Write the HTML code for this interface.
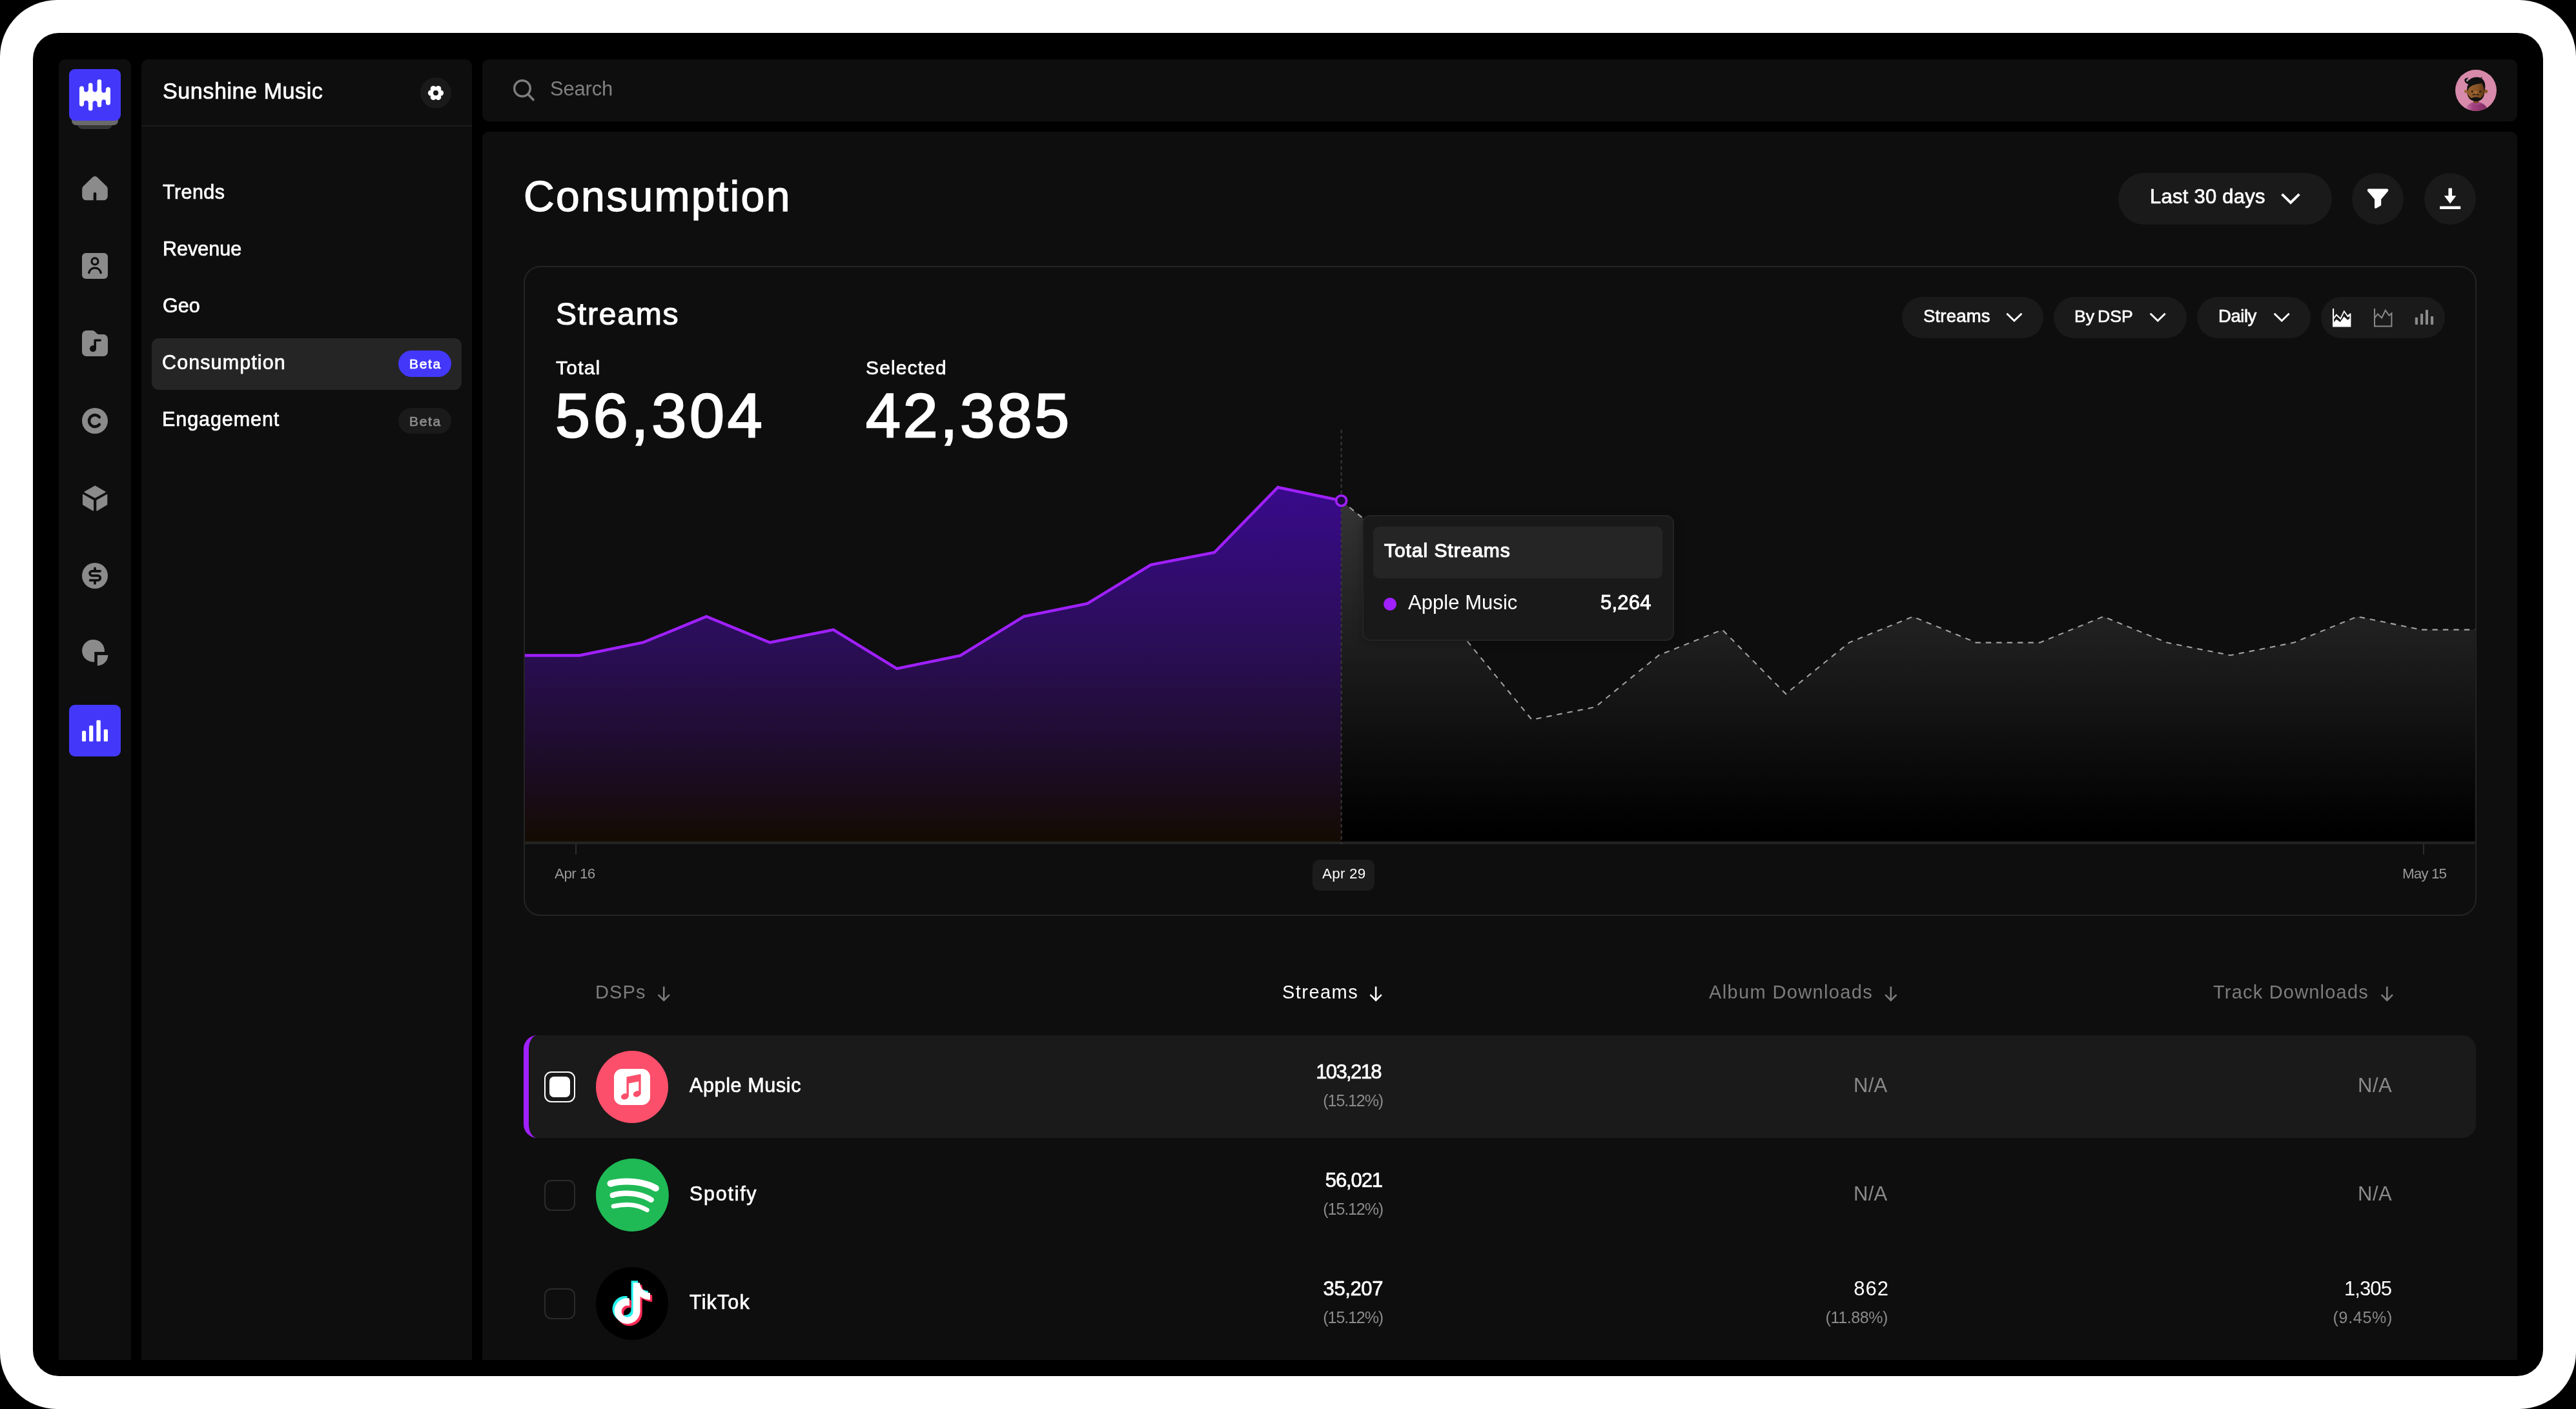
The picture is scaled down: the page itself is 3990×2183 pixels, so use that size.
<!DOCTYPE html>
<html lang="en">
<head>
<meta charset="utf-8">
<title>Consumption</title>
<style>
html,body{margin:0;padding:0;background:#000;}
body{width:3990px;height:2183px;position:relative;overflow:hidden;font-family:"Liberation Sans",sans-serif;color:#fff;}
div,svg,span{position:absolute;box-sizing:border-box;}
.t{white-space:nowrap;line-height:1;color:#fff;will-change:transform;}
.m{-webkit-text-stroke:0.7px currentColor;}
.panel{background:#0e0e0e;}
.g{color:#8a8a8a;}
.pill{background:#1a1a1a;border-radius:40px;}
.ico{left:127px;width:40px;height:40px;overflow:visible;}
.cb{width:48px;height:48px;border:2px solid #2b2b2b;border-radius:11px;left:843px;}
.num{font-size:31px;text-align:right;}
.pct{font-size:25px;text-align:right;color:#8a8a8a;letter-spacing:-0.6px;}
</style>
</head>
<body>
<!-- device frame -->
<div style="left:0;top:0;width:3990px;height:2183px;background:#fff;border-radius:88px;"></div>
<div style="left:51px;top:51px;width:3888px;height:2081px;background:#000;border-radius:40px;"></div>

<!-- panels -->
<div class="panel" style="left:91px;top:92px;width:112px;height:2015px;border-radius:10px 10px 0 0;"></div>
<div class="panel" style="left:219px;top:92px;width:512px;height:2015px;border-radius:10px 10px 0 0;"></div>
<div class="panel" style="left:747px;top:92px;width:3152px;height:96px;border-radius:10px;"></div>
<div class="panel" style="left:747px;top:204px;width:3152px;height:1903px;border-radius:10px 10px 0 0;"></div>

<!-- ===== icon rail ===== -->
<div style="left:119.5px;top:180px;width:54.7px;height:19.8px;background:#363636;border-radius:8px;"></div>
<div style="left:111px;top:180px;width:71.7px;height:13.7px;background:#6a6a6a;border-radius:7px;"></div>
<div style="left:107px;top:107.4px;width:80px;height:80px;background:#4338fa;border-radius:9px;"></div>
<svg style="left:107px;top:107.4px;" width="80" height="80" viewBox="107 107.4 80 80">
  <g fill="#fff">
    <rect x="123" y="140" width="48" height="19"/>
    <rect x="123" y="134" width="7" height="31.2" rx="3.5"/>
    <rect x="136.7" y="128.9" width="7" height="42.9" rx="3.5"/>
    <rect x="150.4" y="123.4" width="7" height="43" rx="3.5"/>
    <rect x="164" y="135.5" width="7" height="27.7" rx="3.5"/>
  </g>
  <g fill="#4338fa">
    <rect x="130" y="118" width="6.7" height="24.8" rx="3.35"/>
    <rect x="143.7" y="118" width="6.7" height="24.8" rx="3.35"/>
    <rect x="157.4" y="118" width="6.6" height="26.1" rx="3.3"/>
    <rect x="130" y="156.2" width="6.7" height="22" rx="3.35"/>
    <rect x="143.7" y="156.6" width="6.7" height="22" rx="3.35"/>
    <rect x="157.4" y="154.6" width="6.6" height="22" rx="3.3"/>
  </g>
</svg>

<!-- home -->
<svg class="ico" style="top:272px;" viewBox="0 0 40 40"><path fill="#8b8b8b" d="M16.500 2.500a5.200 5.200 0 0 1 7 0L38 16.600a6 6 0 0 1 1.8 4.3V32a6.3 6.3 0 0 1-6.3 6.3H22.3V28.2a2.3 2.3 0 0 0-4.6 0v10.1H6.5A6.3 6.3 0 0 1 .2 32V20.9A6 6 0 0 1 2 16.6z"/></svg>
<!-- person -->
<svg class="ico" style="top:391.5px;" viewBox="0 0 40 40"><rect width="40" height="40" rx="6" fill="#8b8b8b"/><circle cx="20" cy="12.9" r="5" fill="none" stroke="#0e0e0e" stroke-width="3.2"/><path d="M10.8 30.6a9.4 9.4 0 0 1 18.4 0" fill="none" stroke="#0e0e0e" stroke-width="3.4" stroke-linecap="round"/></svg>
<!-- music folder -->
<svg class="ico" style="top:511.5px;" viewBox="0 0 40 40"><path fill="#8b8b8b" d="M0 7a7 7 0 0 1 7-7h9.2a5 5 0 0 1 3.6 1.5l3 3A5 5 0 0 0 26.400 6H33a7 7 0 0 1 7 7v20a7 7 0 0 1-7 7H7a7 7 0 0 1-7-7z"/><circle cx="17" cy="28.2" r="5" fill="#0e0e0e"/><path d="M20.2 28V15.3h8" fill="none" stroke="#0e0e0e" stroke-width="3.6" stroke-linecap="round" stroke-linejoin="round"/></svg>
<!-- C -->
<svg class="ico" style="top:631.6px;" viewBox="0 0 40 40"><circle cx="20" cy="20" r="20" fill="#8b8b8b"/><path d="M27 14.300a9 9 0 1 0 0 11.4" fill="none" stroke="#0e0e0e" stroke-width="4.4" stroke-linecap="round"/></svg>
<!-- cube -->
<svg class="ico" style="top:751.5px;" viewBox="0 0 40 40"><g fill="#8b8b8b" stroke="#8b8b8b" stroke-width="1.6" stroke-linejoin="round"><path d="M20.200 1.300 35.800 10.200 20.200 18.800 4.400 10.200z"/><path d="M1.800 14.600 17.300 23.500V38.800L1.800 29.600z"/><path d="M23.100 23.500 38.500 14.600v15L23.100 38.800z"/></g></svg>
<!-- dollar -->
<svg class="ico" style="top:871.6px;" viewBox="0 0 40 40"><circle cx="20" cy="20" r="20" fill="#8b8b8b"/><path d="M28.100 12.800H15.600a3.500 3.500 0 0 0 0 7h9a3.650 3.650 0 0 1 0 7.300H12.600M20 8.400V12.800M20 27.100V31.900" fill="none" stroke="#0e0e0e" stroke-width="3.8" stroke-linecap="round" stroke-linejoin="round"/></svg>
<!-- pie -->
<svg class="ico" style="top:991.4px;" viewBox="0 0 40 40"><path fill="#8b8b8b" d="M34.800 19A17.400 17.400 0 1 0 19.200 34.600V19z"/><path fill="#8b8b8b" d="M23.900 24H40.300A16.400 16.400 0 0 1 23.900 40.400z"/></svg>
<!-- active: bars -->
<div style="left:107px;top:1091.5px;width:80px;height:80.5px;background:#4338fa;border-radius:9px;"></div>
<svg style="left:107px;top:1091.5px;" width="80" height="80.5" viewBox="107 1091.5 80 80.5"><g fill="#fff"><rect x="127" y="1131.7" width="6.1" height="16.6" rx="1.6"/><rect x="138.100" y="1123.5" width="6.2" height="24.8" rx="1.6"/><rect x="149.4" y="1115.200" width="6.4" height="33.100" rx="1.6"/><rect x="160.800" y="1129.4" width="6.2" height="18.9" rx="1.6"/></g></svg>

<!-- ===== sidebar ===== -->
<div class="t m" style="left:252px;top:124px;font-size:34.2px;letter-spacing:0.5px;">Sunshine Music</div>
<div style="left:651px;top:119.700px;width:48px;height:48px;border-radius:50%;background:#1a1a1a;"></div>
<svg style="left:651px;top:119.700px;" width="48" height="48" viewBox="-24 -24 48 48"><g fill="#fff"><circle r="8.8"/><circle cx="7.600" cy="0" r="4.500"/><circle cx="-7.600" cy="0" r="4.500"/><circle cx="3.800" cy="6.580" r="4.500"/><circle cx="-3.800" cy="6.580" r="4.500"/><circle cx="3.800" cy="-6.580" r="4.500"/><circle cx="-3.800" cy="-6.580" r="4.500"/></g><circle r="4" fill="#1a1a1a"/></svg>
<div style="left:219px;top:194px;width:512px;height:2px;background:#1b1b1b;"></div>

<div style="left:235px;top:523.5px;width:480px;height:80px;border-radius:11px;background:#252525;"></div>
<div class="t m" style="left:251.700px;top:281.900px;font-size:30.5px;letter-spacing:0.44px;">Trends</div>
<div class="t m" style="left:251.700px;top:369.900px;font-size:30.5px;letter-spacing:0.03px;">Revenue</div>
<div class="t m" style="left:251.700px;top:457.5px;font-size:30.5px;">Geo</div>
<div class="t m" style="left:251.300px;top:545.900px;font-size:30.5px;letter-spacing:1.1px;">Consumption</div>
<div class="t m" style="left:251.300px;top:633.5px;font-size:30.5px;letter-spacing:0.93px;">Engagement</div>
<div style="left:616.600px;top:543.4px;width:82.4px;height:40.4px;border-radius:21px;background:#4338fa;"></div>
<div class="t m" style="left:633.800px;top:553.200px;font-size:21px;letter-spacing:1.63px;">Beta</div>
<div style="left:616.600px;top:632.200px;width:82.4px;height:39.4px;border-radius:21px;background:#1a1a1a;"></div>
<div class="t m" style="left:633.800px;top:641.700px;font-size:21px;letter-spacing:1.63px;color:#8c8c8c;">Beta</div>

<!-- ===== top bar ===== -->
<svg style="left:790px;top:118px;" width="44" height="44" viewBox="790 118 44 44"><circle cx="809" cy="137" r="12.300" fill="none" stroke="#7d7d7d" stroke-width="3.400"/><path d="M818 146.200 826 154.600" stroke="#7d7d7d" stroke-width="3.600" stroke-linecap="round"/></svg>
<div class="t" style="left:852.4px;top:121.800px;font-size:31px;letter-spacing:-0.2px;color:#808080;">Search</div>
<!-- avatar -->
<svg style="left:3803px;top:107.500px;" width="64" height="64" viewBox="0 0 64 64">
  <defs>
    <clipPath id="avc"><circle cx="32" cy="32" r="32"/></clipPath>
    <linearGradient id="shirt" x1="0" x2="1" y1="0" y2="0"><stop offset="0" stop-color="#cf8ab0"/><stop offset="0.35" stop-color="#a4407f"/><stop offset="1" stop-color="#7a2b5e"/></linearGradient>
    <linearGradient id="skin" x1="0" x2="1" y1="0" y2="0"><stop offset="0" stop-color="#96602f"/><stop offset="0.6" stop-color="#875325"/><stop offset="1" stop-color="#5e3616"/></linearGradient>
  </defs>
  <circle cx="32" cy="32" r="32" fill="#d88aab"/>
  <g clip-path="url(#avc)">
    <ellipse cx="32.500" cy="66" rx="18.500" ry="16" fill="url(#shirt)"/>
    <rect x="28" y="44" width="8.500" height="8" fill="#7a4a22"/>
    <path d="M25.500 50.800q6.500 2 13.500 0v2.400q-7 2-13.500 0z" fill="#a8468a"/>
    <circle cx="16.700" cy="33.600" r="2.700" fill="#9a6634"/>
    <circle cx="47.300" cy="33.600" r="2.900" fill="#8a5a2c"/>
    <rect x="18.500" y="19" width="26.500" height="29" rx="11" fill="url(#skin)"/>
    <path d="M18.500 34.500c.5 6 3 11.500 8.500 13.500 3.500 1.300 7.500 1.300 10.500 0 5-2 7-7 7.500-13.500-1.500 5-3.500 8.500-6.500 9.500-2 -.8-3.500-1.400-6.500-1.400s-5 .7-6.500 1.400c-3.500-1-5.500-4.500-7-9.500z" fill="#121212"/>
    <path d="M26 39.300q2.700-2.600 5.700-.8 3-1.800 5.800.8-3 .3-5.800-.5-2.800 .8-5.700 .5z" fill="#161616"/>
    <path d="M19.300 34C17.800 29.500 18.200 25.300 20.300 22.300C16.800 21.600 14.200 19 14.300 15.800C14.600 14 16.500 12.600 19.900 12.200C19 14.200 19.600 15.600 21 16.400C24.500 12.600 30.500 10.800 36 11.700C42.200 12.700 46.500 18 46.400 25C46.400 28.500 46 31.500 45.300 34C45 29.500 43.600 24.800 41 21.200C35.500 21.500 27.500 23.200 22.800 26.500C21.300 27.600 20 30.500 19.300 34Z" fill="#101010"/><path d="M39.300 12.500l1-1.900.7 1.700 1.300-.6-.7 1.700z" fill="#2a2a2a"/>
    <path d="M17 17.800c.200-1.900 1-3.300 2.200-4.300-.100 1.800.300 3 1.100 3.900-1.200.600-2.300.700-3.300.400z" fill="#b5b5b5"/>
    <ellipse cx="26.100" cy="33.800" rx="1.100" ry="1.500" fill="#0b0b0b"/><ellipse cx="38.600" cy="33.800" rx="1.100" ry="1.500" fill="#0b0b0b"/>
    <ellipse cx="31.800" cy="34.800" rx="2" ry="1.700" fill="#b0703c"/>
  </g>
</svg>

<!-- ===== header ===== -->
<div class="t" style="left:810.500px;top:270.600px;font-size:66px;letter-spacing:2.35px;-webkit-text-stroke:1.3px #fff;">Consumption</div>
<div class="pill" style="left:3281px;top:267.700px;width:330.5px;height:80px;"></div>
<div class="t m" style="left:3330.200px;top:289px;font-size:31px;letter-spacing:0.24px;">Last 30 days</div>
<svg style="left:3528px;top:294px;" width="40" height="28" viewBox="3528 294 40 28"><path d="M3534.600 300.800 3548 314 3561.400 300.800" fill="none" stroke="#fff" stroke-width="3.900" stroke-linejoin="miter"/></svg>
<div class="pill" style="left:3643px;top:267.700px;width:80px;height:80px;"></div>
<svg style="left:3663px;top:288px;" width="40" height="40" viewBox="3663 288 40 40"><path fill="#fff" d="M3669 292.600H3697.100a2.200 2.200 0 0 1 1.700 3.600L3688.200 308.800V317.400a1.500 1.500 0 0 1-.800 1.300L3680.400 322.700a1.600 1.600 0 0 1-2.400-1.400V308.800L3667.300 296.200a2.200 2.200 0 0 1 1.700-3.600z"/></svg>
<div class="pill" style="left:3755.200px;top:267.700px;width:80px;height:80px;"></div>
<svg style="left:3775px;top:288px;" width="40" height="40" viewBox="3775 288 40 40"><path fill="#fff" d="M3792.400 292.600a1 1 0 0 1 1-1h3.600a1 1 0 0 1 1 1v10.600h6.400l-9.300 12.400-9.300-12.400h6.600zM3779.100 319.400h32.100v4.500h-32.100z"/></svg>

<!-- ===== chart card ===== -->
<div style="left:811px;top:411.800px;width:3024.500px;height:1007.500px;border:2px solid #242424;border-radius:26px;"></div>
<div class="t" style="left:860.500px;top:463.200px;font-size:48px;letter-spacing:1.8px;-webkit-text-stroke:1.2px #fff;">Streams</div>
<div class="t m" style="left:861px;top:554.600px;font-size:30px;letter-spacing:1.23px;">Total</div>
<div class="t m" style="left:1340.900px;top:554.600px;font-size:30px;letter-spacing:1.13px;">Selected</div>
<div class="t" style="left:859.600px;top:595.400px;font-size:97px;letter-spacing:4.8px;-webkit-text-stroke:2.4px #fff;">56,304</div>
<div class="t" style="left:1341.200px;top:595.400px;font-size:97px;letter-spacing:3.7px;-webkit-text-stroke:2.4px #fff;">42,385</div>

<!-- controls -->
<div class="pill" style="left:2946px;top:459.600px;width:219.200px;height:64px;"></div>
<div class="t m" style="left:2978.600px;top:476.100px;font-size:27.500px;letter-spacing:0.19px;">Streams</div>
<svg style="left:3100px;top:478px;" width="40" height="28" viewBox="3100 478 40 28"><path d="M3108.400 485.800 3119.900 497 3131.400 485.800" fill="none" stroke="#fff" stroke-width="3"/></svg>
<div class="pill" style="left:3181.200px;top:459.600px;width:205.600px;height:64px;"></div>
<div class="t m" style="left:3212.800px;top:476.900px;font-size:26.600px;letter-spacing:0;word-spacing:-2.400px;">By DSP</div>
<svg style="left:3322px;top:478px;" width="40" height="28" viewBox="3322 478 40 28"><path d="M3330.700 485.800 3342.200 497 3353.700 485.800" fill="none" stroke="#fff" stroke-width="3"/></svg>
<div class="pill" style="left:3403.200px;top:459.600px;width:175.600px;height:64px;"></div>
<div class="t m" style="left:3436.200px;top:476.100px;font-size:27.500px;letter-spacing:-0.46px;">Daily</div>
<svg style="left:3514px;top:478px;" width="40" height="28" viewBox="3514 478 40 28"><path d="M3522.700 485.800 3534.200 497 3545.700 485.800" fill="none" stroke="#fff" stroke-width="3"/></svg>
<div class="pill" style="left:3595px;top:459.600px;width:192px;height:64px;"></div>
<!-- area icon -->
<svg style="left:3612.800px;top:477.700px;overflow:visible;" width="28.400" height="28.400" viewBox="0 0 28.400 28.400"><path fill="#fff" d="M0 0h2.100v13.200l3.700-4.900 6.200 6 5.700-11.700 5.700 8 4-3.400 1 .3V28.400H0zM2.100 16.300v4.900l3.700-4.500 6 4.300 5.900-8.600 5.500 5.400 3.100-2V11.500l-2.700 2.300-5.600-7.700-5.500 11.400-6.500-6.300z"/></svg>
<!-- line icon -->
<svg style="left:3677px;top:477.700px;overflow:visible;" width="28.400" height="28.400" viewBox="0 0 28.400 28.400"><path fill="none" stroke="#8a8a8a" stroke-width="2" stroke-linejoin="miter" d="M1 0v27.400h26.400V7.500l-3.900 3.300-5.700-8-5.700 11.700-6.200-6L1 14.800"/></svg>
<!-- bar icon -->
<svg style="left:3740px;top:477px;" width="32" height="30" viewBox="3740 477 32 30"><g fill="#8a8a8a"><rect x="3740.800" y="491.700" width="4.200" height="11.400" rx="1"/><rect x="3749" y="485.900" width="4.100" height="17.200" rx="1"/><rect x="3756.900" y="480" width="4.100" height="23.100" rx="1"/><rect x="3764.900" y="490.100" width="4.200" height="13" rx="1"/></g></svg>
<svg style="left:0;top:0;" width="3990" height="1420" viewBox="0 0 3990 1420">
  <defs>
    <linearGradient id="gp" gradientUnits="userSpaceOnUse" x1="0" y1="755" x2="0" y2="1304"><stop offset="0" stop-color="#390a8c"/><stop offset="0.45" stop-color="#2a0e56"/><stop offset="0.75" stop-color="#1e0c2b"/><stop offset="1" stop-color="#140b02"/></linearGradient>
    <linearGradient id="gg" gradientUnits="userSpaceOnUse" x1="0" y1="775" x2="0" y2="1304"><stop offset="0" stop-color="#343434"/><stop offset="0.97" stop-color="#000"/><stop offset="1" stop-color="#000"/></linearGradient>
  </defs>
  <polygon fill="url(#gg)" points="2077.6,775.7 2176.0,855.5 2274.3,995.4 2372.7,1115.0 2471.0,1095.4 2569.4,1015.2 2667.8,975.7 2766.1,1075.1 2864.5,995.4 2962.8,955.4 3061.2,995.6 3159.6,995.6 3257.9,955.2 3356.3,995.6 3454.6,1015.2 3553.0,995.6 3651.3,955.2 3749.7,975.6 3833.5,975.6 3833.5,1304 2077.6,1304"/>
  <polygon fill="url(#gp)" points="813.0,1015.5 897.6,1015.5 995.9,995.5 1094.2,955.2 1192.5,995.5 1290.8,975.7 1389.1,1035.8 1487.5,1015.6 1585.8,955.2 1684.2,935.2 1782.5,875.1 1880.9,856.0 1979.3,755.0 2077.6,775.7 2077.6,1304 813,1304"/>
  <polyline fill="none" stroke="#a2a2a2" stroke-width="2.1" stroke-dasharray="8.4 8" points="2077.6,775.7 2176.0,855.5 2274.3,995.4 2372.7,1115.0 2471.0,1095.4 2569.4,1015.2 2667.8,975.7 2766.1,1075.1 2864.5,995.4 2962.8,955.4 3061.2,995.6 3159.6,995.6 3257.9,955.2 3356.3,995.6 3454.6,1015.2 3553.0,995.6 3651.3,955.2 3749.7,975.6 3833.5,975.6"/>
  <rect x="813" y="1303.700" width="3020.5" height="4.300" fill="#232323"/>
  <path d="M2077.600 666V1308" stroke="#3b3b3b" stroke-width="2" stroke-dasharray="5 4.400" fill="none"/>
  <polyline fill="none" stroke="#a020ff" stroke-width="4.400" stroke-linejoin="miter" points="813.0,1015.5 897.6,1015.5 995.9,995.5 1094.2,955.2 1192.5,995.5 1290.8,975.7 1389.1,1035.8 1487.5,1015.6 1585.8,955.2 1684.2,935.2 1782.5,875.1 1880.9,856.0 1979.3,755.0 2077.6,775.7"/>
  <circle cx="2077.600" cy="775.700" r="8" fill="#1c0a3c" stroke="#a020ff" stroke-width="3.600"/>
  <rect x="891.100" y="1308" width="2" height="15.800" fill="#2e2e2e"/>
  <rect x="3753" y="1308" width="2" height="15.800" fill="#2e2e2e"/>
</svg>
<!-- tooltip -->
<div style="left:2109.700px;top:797.800px;width:483.300px;height:195px;background:#191919;border:2px solid #242424;border-radius:13px;box-shadow:0 4px 16px rgba(0,0,0,0.25);"></div>
<div style="left:2127.200px;top:815.600px;width:448px;height:80.200px;background:#252525;border-radius:9px;"></div>
<div class="t" style="left:2144px;top:838.400px;font-size:30px;letter-spacing:0.95px;-webkit-text-stroke:1.15px #fff;">Total Streams</div>
<div style="left:2143px;top:925.600px;width:20px;height:20px;border-radius:50%;background:#a020ff;"></div>
<div class="t" style="left:2180.600px;top:918.100px;font-size:31px;letter-spacing:0.05px;">Apple Music</div>
<div class="t m" style="left:2479.100px;top:918.100px;font-size:31px;letter-spacing:0.26px;-webkit-text-stroke:0.9px #fff;">5,264</div>
<!-- axis labels -->
<div class="t" style="left:859.300px;top:1342.600px;font-size:22.400px;letter-spacing:-0.54px;color:#9a9a9a;">Apr 16</div>
<div class="t" style="left:3720.700px;top:1343px;font-size:22.400px;letter-spacing:-0.89px;color:#9a9a9a;">May 15</div>
<div style="left:2033px;top:1332px;width:96px;height:48.100px;border-radius:11px;background:#1c1c1c;"></div>
<div class="t" style="left:2047.500px;top:1342.600px;font-size:22.400px;letter-spacing:0.26px;">Apr 29</div>
<!-- ===== table header ===== -->
<div class="t" style="left:921.900px;top:1522.800px;font-size:29px;letter-spacing:1.1px;color:#7c7c7c;">DSPs</div>
<svg style="left:1014px;top:1524px;" width="30" height="32" viewBox="1014 1524 30 32"><path d="M1028.250 1528.500V1549.500M1019.600 1541.100 1028.250 1549.800 1036.900 1541.100" fill="none" stroke="#7c7c7c" stroke-width="2.600"/></svg>
<div class="t" style="left:1985.500px;top:1522.800px;font-size:29px;letter-spacing:1.46px;">Streams</div>
<svg style="left:2116px;top:1524px;" width="30" height="32" viewBox="2116 1524 30 32"><path d="M2131.100 1528.500V1549.500M2122.400 1541.100 2131.100 1549.800 2139.800 1541.100" fill="none" stroke="#fff" stroke-width="2.600"/></svg>
<div class="t" style="left:2646.700px;top:1522.800px;font-size:29px;letter-spacing:1.36px;color:#7c7c7c;">Album Downloads</div>
<svg style="left:2914px;top:1524px;" width="30" height="32" viewBox="2914 1524 30 32"><path d="M2928.800 1528.500V1549.500M2920.100 1541.100 2928.800 1549.800 2937.500 1541.100" fill="none" stroke="#7c7c7c" stroke-width="2.600"/></svg>
<div class="t" style="left:3427.700px;top:1522.800px;font-size:29px;letter-spacing:1.2px;color:#7c7c7c;">Track Downloads</div>
<svg style="left:3682px;top:1524px;" width="30" height="32" viewBox="3682 1524 30 32"><path d="M3697.300 1528.500V1549.500M3688.600 1541.100 3697.300 1549.800 3706 1541.100" fill="none" stroke="#7c7c7c" stroke-width="2.600"/></svg>

<!-- ===== row 1 (selected) ===== -->
<div style="left:811px;top:1603.800px;width:3024.400px;height:159.500px;background:#1a1a1a;border-left:8.400px solid #a020ff;border-radius:21px;"></div>
<div class="cb" style="top:1659.500px;border-color:#fff;"></div>
<div style="left:851px;top:1667.500px;width:32px;height:32px;border-radius:7px;background:#fff;"></div>
<div style="left:923px;top:1627.600px;width:112.300px;height:112.300px;border-radius:50%;background:#fb4f6b;"></div>
<div style="left:951px;top:1655.600px;width:56.200px;height:56.200px;border-radius:12.500px;background:#fff;"></div>
<svg style="left:951px;top:1655.600px;" width="56.200" height="56.200" viewBox="0 0 56.200 56.200"><g fill="#fb4f6b"><path d="M20.300 12.200 40.500 8.300a1 1 0 0 1 1.200 1V38.500h-3.400V19.600l-15.400 3V42.500h-3.400V13.400a1.200 1.200 0 0 1 .8-1.200z"/><ellipse cx="16.900" cy="42.800" rx="6" ry="4.600" transform="rotate(-18 16.900 42.800)"/><ellipse cx="35.700" cy="38.800" rx="6" ry="4.600" transform="rotate(-18 35.700 38.800)"/></g></svg>
<div class="t m" style="left:1068.200px;top:1665.700px;font-size:30.500px;letter-spacing:0.63px;">Apple Music</div>
<div class="t m num" style="left:1739.400px;width:400px;top:1644.600px;letter-spacing:-1.6px;">103,218</div>
<div class="t pct" style="left:1741.700px;width:400px;top:1692.500px;letter-spacing:-1.1px;">(15.12%)</div>
<div class="t g" style="left:2870.800px;top:1665.800px;font-size:31px;letter-spacing:0.3px;">N/A</div>
<div class="t g" style="left:3651.800px;top:1665.800px;font-size:31px;letter-spacing:0.5px;">N/A</div>

<!-- ===== row 2 ===== -->
<div class="cb" style="top:1827.700px;"></div>
<div style="left:925px;top:1797.500px;width:108.300px;height:108.300px;border-radius:50%;background:#fff;"></div>
<svg style="left:922.700px;top:1795.200px;" width="112.900" height="112.900" viewBox="0 0 24 24"><path fill="#1fba55" d="M12 0C5.400 0 0 5.400 0 12s5.400 12 12 12 12-5.400 12-12S18.660 0 12 0zm5.521 17.340c-.24.359-.66.480-1.021.240-2.820-1.740-6.360-2.101-10.561-1.141-.418.122-.779-.179-.899-.539-.12-.421.18-.780.540-.900 4.560-1.021 8.520-.600 11.640 1.320.420.180.479.659.301 1.020zm1.440-3.300c-.301.420-.841.600-1.262.300-3.239-1.980-8.159-2.580-11.939-1.380-.479.120-1.020-.120-1.140-.600-.12-.480.120-1.021.600-1.141C9.600 9.900 15 10.561 18.720 12.840c.361.181.540.780.241 1.200zm.12-3.360C15.240 8.400 8.820 8.160 5.160 9.301c-.600.179-1.200-.181-1.380-.721-.18-.601.180-1.200.720-1.381 4.260-1.260 11.280-1.020 15.721 1.621.539.300.719 1.020.419 1.560-.299.421-1.020.599-1.559.300z"/></svg>
<div class="t m" style="left:1068px;top:1833.700px;font-size:30.500px;letter-spacing:1.73px;">Spotify</div>
<div class="t m num" style="left:1740.800px;width:400px;top:1812.600px;letter-spacing:-1.1px;">56,021</div>
<div class="t pct" style="left:1741.700px;width:400px;top:1860.500px;letter-spacing:-1.1px;">(15.12%)</div>
<div class="t g" style="left:2870.800px;top:1833.800px;font-size:31px;letter-spacing:0.3px;">N/A</div>
<div class="t g" style="left:3651.800px;top:1833.800px;font-size:31px;letter-spacing:0.5px;">N/A</div>

<!-- ===== row 3 ===== -->
<div class="cb" style="top:1995.700px;"></div>
<div style="left:923px;top:1963.400px;width:112.300px;height:112.300px;border-radius:50%;background:#000;"></div>
<svg style="left:936.800px;top:1980.200px;overflow:visible;" width="80" height="80" viewBox="0 0 30.200 30.200">
  
  <path d="M12.525.020c1.310-.020 2.610-.010 3.910-.020.080 1.530.630 3.090 1.750 4.170 1.120 1.110 2.700 1.620 4.240 1.790v4.030c-1.440-.050-2.890-.350-4.200-.970-.570-.260-1.100-.590-1.620-.930-.010 2.920.010 5.840-.020 8.750-.080 1.400-.540 2.790-1.350 3.940-1.310 1.920-3.580 3.170-5.910 3.210-1.430.080-2.860-.310-4.080-1.030-2.020-1.190-3.440-3.370-3.650-5.710-.020-.500-.030-1-.010-1.490.180-1.900 1.120-3.720 2.580-4.960 1.660-1.440 3.980-2.130 6.150-1.720.020 1.480-.040 2.960-.040 4.440-.990-.320-2.150-.230-3.020.370-.630.410-1.110 1.040-1.360 1.750-.210.510-.150 1.070-.140 1.610.240 1.640 1.820 3.020 3.500 2.870 1.120-.010 2.190-.660 2.770-1.610.190-.330.400-.670.410-1.060.100-1.790.060-3.570.070-5.360.010-4.030-.010-8.050.020-12.070z" fill="#25f4ee" transform="translate(2.800 1.600)"/>
  <path d="M12.525.020c1.310-.020 2.610-.010 3.910-.020.080 1.530.630 3.090 1.750 4.170 1.120 1.110 2.700 1.620 4.240 1.790v4.030c-1.440-.050-2.890-.350-4.200-.970-.570-.260-1.100-.590-1.620-.930-.010 2.920.010 5.840-.020 8.750-.080 1.400-.540 2.790-1.350 3.940-1.310 1.920-3.580 3.170-5.910 3.210-1.430.080-2.860-.310-4.080-1.030-2.020-1.190-3.440-3.370-3.650-5.710-.020-.500-.030-1-.010-1.490.180-1.900 1.120-3.720 2.580-4.960 1.660-1.440 3.980-2.130 6.150-1.720.020 1.480-.040 2.960-.040 4.440-.990-.320-2.150-.230-3.020.370-.630.410-1.110 1.040-1.360 1.750-.210.510-.150 1.070-.140 1.610.240 1.640 1.820 3.020 3.500 2.870 1.120-.010 2.190-.660 2.770-1.610.190-.330.400-.670.410-1.060.100-1.790.060-3.570.070-5.360.010-4.030-.010-8.050.020-12.070z" fill="#fe2c55" transform="translate(5.200 4)"/>
  <path d="M12.525.020c1.310-.020 2.610-.010 3.910-.020.080 1.530.630 3.090 1.750 4.170 1.120 1.110 2.700 1.620 4.240 1.790v4.030c-1.440-.050-2.890-.350-4.200-.970-.570-.260-1.100-.590-1.620-.930-.010 2.920.010 5.840-.020 8.750-.080 1.400-.540 2.790-1.350 3.940-1.310 1.920-3.580 3.170-5.910 3.210-1.430.080-2.860-.310-4.080-1.030-2.020-1.190-3.440-3.370-3.650-5.710-.020-.500-.030-1-.010-1.490.180-1.900 1.120-3.720 2.580-4.960 1.660-1.440 3.980-2.130 6.150-1.720.020 1.480-.040 2.960-.040 4.440-.990-.320-2.150-.230-3.020.370-.630.410-1.110 1.040-1.360 1.750-.210.510-.150 1.070-.140 1.610.240 1.640 1.820 3.020 3.500 2.870 1.120-.010 2.190-.660 2.770-1.610.190-.330.400-.670.410-1.060.100-1.790.060-3.570.070-5.360.010-4.030-.010-8.050.020-12.070z" fill="#fff" transform="translate(4 2.800)"/>
</svg>
<div class="t m" style="left:1068px;top:2001.800px;font-size:30.500px;letter-spacing:1.13px;">TikTok</div>
<div class="t m num" style="left:1742px;width:400px;top:1980.600px;letter-spacing:-0.4px;">35,207</div>
<div class="t pct" style="left:1741.700px;width:400px;top:2028.500px;letter-spacing:-1.1px;">(15.12%)</div>
<div class="t num" style="left:2526px;width:400px;top:1980.600px;letter-spacing:1px;">862</div>
<div class="t pct" style="left:2524.300px;width:400px;top:2028.500px;letter-spacing:-0.4px;">(11.88%)</div>
<div class="t num" style="left:3304.400px;width:400px;top:1980.600px;letter-spacing:-0.9px;">1,305</div>
<div class="t pct" style="left:3306.400px;width:400px;top:2028.500px;letter-spacing:0.7px;">(9.45%)</div>




</body>
</html>
